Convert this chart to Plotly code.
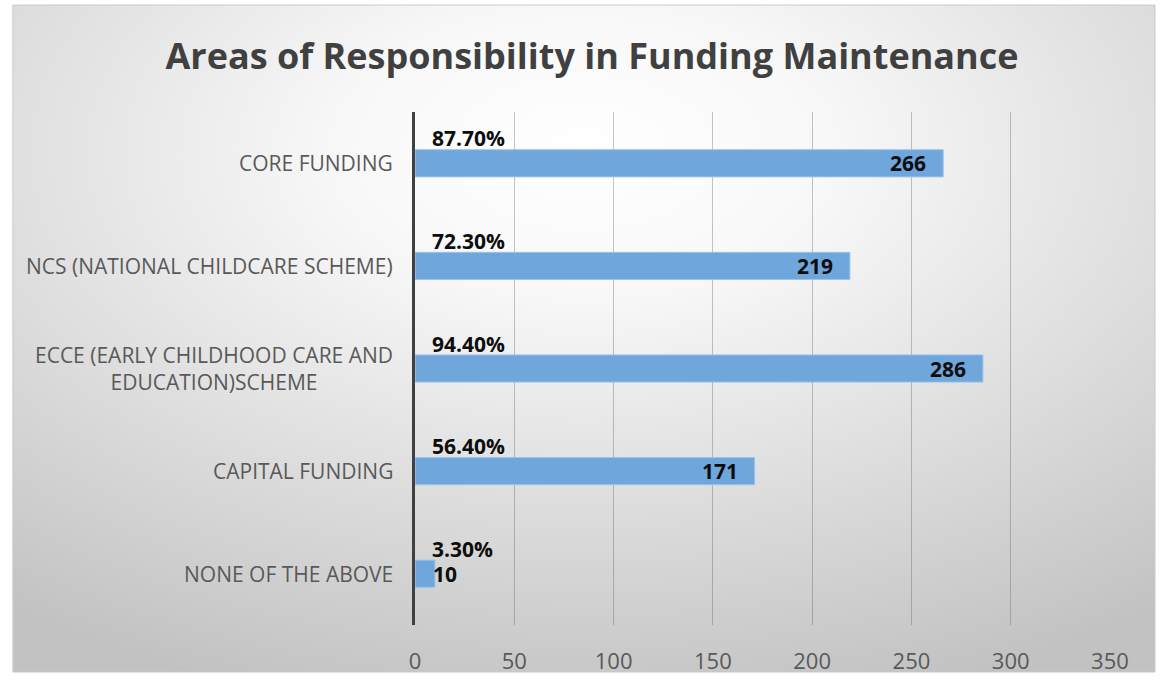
import base64
import plotly.graph_objects as go

# Survey results: respondents per funding area and their share
categories = [
    "CORE FUNDING",
    "NCS (NATIONAL CHILDCARE SCHEME)",
    "ECCE (EARLY CHILDHOOD CARE AND<br>EDUCATION)SCHEME",
    "CAPITAL FUNDING",
    "NONE OF THE ABOVE",
]
counts = [266, 219, 286, 171, 10]
percent_labels = ["87.70%", "72.30%", "94.40%", "56.40%", "3.30%"]
x_ticks = [0, 50, 100, 150, 200, 250, 300, 350]

W, H = 1174, 684

# Chart-area background: soft radial gradient, white near the title fading to grey
svg = (
    "<svg xmlns='http://www.w3.org/2000/svg' width='1167' height='667' "
    "preserveAspectRatio='none' viewBox='0 0 1167 667'>"
    "<defs><radialGradient id='g' cx='0.5' cy='0.22' r='0.85'>"
    "<stop offset='0' stop-color='#ffffff'/>"
    "<stop offset='0.25' stop-color='#f8f8f8'/>"
    "<stop offset='1' stop-color='#c2c2c2'/>"
    "</radialGradient></defs>"
    "<rect width='1167' height='667' fill='url(#g)'/></svg>"
)
bg_src = "data:image/svg+xml;base64," + base64.b64encode(svg.encode()).decode()

bar_color = "#6fa7dc"
label_font = dict(family="Open Sans", size=21, color="#0d0d0d", weight="bold")

fig = go.Figure(
    go.Bar(
        x=counts,
        y=categories,
        orientation="h",
        marker=dict(color=bar_color, line=dict(color="#9cc3ea", width=1)),
        hoverinfo="skip",
        width=0.265,
    )
)

annotations = []
for cat, n, pct in zip(categories, counts, percent_labels):
    # share of respondents above the start of each bar
    annotations.append(dict(
        x=0, y=cat, xref="x", yref="y", text=pct, showarrow=False,
        xanchor="left", yanchor="middle", xshift=15, yshift=25, font=label_font,
    ))
    # count at the end of the bar (just past it when the bar is too short)
    inside = n >= 30
    annotations.append(dict(
        x=n, y=cat, xref="x", yref="y", text=str(n), showarrow=False,
        xanchor="right" if inside else "left", yanchor="middle",
        xshift=-15 if inside else -4, yshift=0, font=label_font,
    ))
    # category label, multi-line labels centred
    annotations.append(dict(
        x=397 / W, y=cat, xref="paper", yref="y", text=cat, showarrow=False,
        xanchor="right", yanchor="middle", align="center",
        font=dict(family="Open Sans", size=21, color="#595959"),
    ))

fig.update_layout(
    width=W,
    height=H,
    margin=dict(l=0, r=0, t=0, b=0),
    paper_bgcolor="white",
    plot_bgcolor="rgba(0,0,0,0)",
    showlegend=False,
    title=dict(
        text="Areas of Responsibility in Funding Maintenance",
        x=592 / W, xanchor="center", y=1 - 56 / H, yanchor="middle",
        font=dict(family="Open Sans", size=36, color="#404040", weight="bold"),
    ),
    xaxis=dict(
        domain=[418 / W, 1128 / W],
        range=[0, 350],
        tickvals=x_ticks,
        showgrid=True,
        gridcolor="rgba(90,90,90,0.35)",
        gridwidth=1,
        zeroline=False,
        showline=False,
        ticks="outside",
        ticklen=17,
        tickcolor="rgba(0,0,0,0)",
        tickfont=dict(family="Open Sans", size=22, color="#595959"),
        fixedrange=True,
    ),
    yaxis=dict(
        domain=[(H - 625) / H, (H - 112) / H],
        autorange="reversed",
        showticklabels=False,
        showgrid=False,
        zeroline=False,
        showline=True,
        linecolor="#404040",
        linewidth=3,
        fixedrange=True,
    ),
    annotations=annotations,
    images=[dict(
        source=bg_src, xref="paper", yref="paper",
        x=7 / W, y=1 - 5 / H, sizex=1167 / W, sizey=667 / H,
        xanchor="left", yanchor="top", sizing="stretch", layer="below",
    )],
    shapes=[dict(
        type="rect", xref="paper", yref="paper",
        x0=7 / W, x1=1, y0=1 - 672 / H, y1=1 - 5 / H,
        line=dict(color="#c9c9c9", width=1), fillcolor="rgba(0,0,0,0)", layer="below",
    )],
)

fig.write_html("out.html")
